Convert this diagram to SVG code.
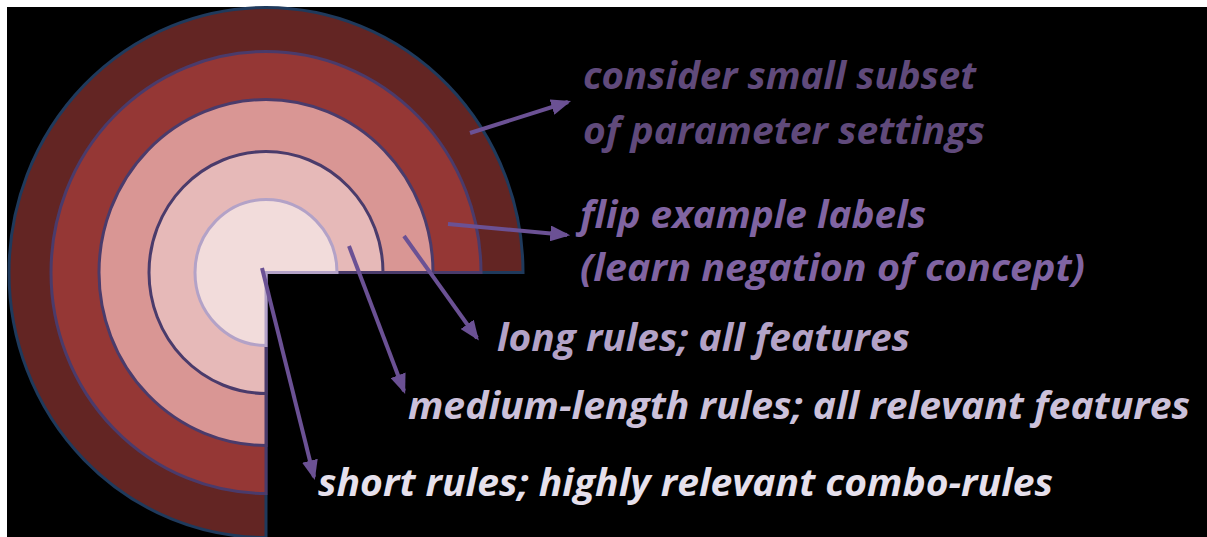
<svg xmlns="http://www.w3.org/2000/svg" width="1207" height="537" viewBox="0 0 1207 537">
<style>
.lbl{font-family:"Open Sans","Liberation Sans",sans-serif;font-weight:bold;font-style:italic;font-size:37px}
.ring{stroke-width:3}
.arr{stroke:#6b5194;stroke-width:4;fill:none;marker-end:url(#ah)}
</style>
<defs>
<marker id="ah" markerWidth="5" markerHeight="4" refX="4.2" refY="2" orient="auto" markerUnits="strokeWidth">
<path d="M0,0 L5,2 L0,4 Z" fill="#6b5194"/>
</marker>
</defs>
<rect x="0" y="0" width="1207" height="537" fill="#ffffff"/>
<rect x="7" y="7" width="1200" height="530" fill="#000000"/>
<g id="ring5"><path class="ring" d="M266,272.5 L523,272.5 A257 265 0 1 0 266,537.5 Z" fill="#632523" stroke="#1f3a5c"/></g>
<g id="ring4"><path class="ring" d="M266,272.5 L481,272.5 A215 221 0 1 0 266,493.5 Z" fill="#953735" stroke="#4a3b6b"/></g>
<g id="ring3"><path class="ring" d="M266,272.5 L433,272.5 A167 173 0 1 0 266,445.5 Z" fill="#d99694" stroke="#4a3b6b"/></g>
<g id="ring2"><path class="ring" d="M266,272.5 L383,272.5 A117 121 0 1 0 266,393.5 Z" fill="#e6b9b8" stroke="#4a3b6b"/></g>
<g id="ring1"><path class="ring" d="M266,272.5 L337,272.5 A71 73 0 1 0 266,345.5 Z" fill="#f2dcdb" stroke="#b3a2c7"/></g>
<g id="connectors">
<line class="arr" x1="470" y1="133" x2="568" y2="102"/>
<line class="arr" x1="448" y1="224" x2="567" y2="235"/>
<line class="arr" x1="404" y1="236" x2="477" y2="338"/>
<line class="arr" x1="349" y1="246" x2="404" y2="391"/>
<line class="arr" x1="262" y1="268" x2="314" y2="477"/>
</g>
<g id="label-subset">
<text class="lbl" x="583" y="89" fill="#604a7b" textLength="393" lengthAdjust="spacingAndGlyphs">consider small subset</text>
<text class="lbl" x="583" y="144" fill="#604a7b" textLength="402" lengthAdjust="spacingAndGlyphs">of parameter settings</text>
</g>
<g id="label-flip">
<text class="lbl" x="580" y="228" fill="#8064a2" textLength="346" lengthAdjust="spacingAndGlyphs">flip example labels</text>
<text class="lbl" x="580" y="281" fill="#8064a2" textLength="505" lengthAdjust="spacingAndGlyphs">(learn negation of concept)</text>
</g>
<g id="label-long">
<text class="lbl" x="497" y="351" fill="#b3a2c7" textLength="413" lengthAdjust="spacingAndGlyphs">long rules; all features</text>
</g>
<g id="label-medium">
<text class="lbl" x="408" y="419" fill="#ccc1da" textLength="782" lengthAdjust="spacingAndGlyphs">medium-length rules; all relevant features</text>
</g>
<g id="label-short">
<text class="lbl" x="318" y="496" fill="#e6e0ec" textLength="735" lengthAdjust="spacingAndGlyphs">short rules; highly relevant combo-rules</text>
</g>
</svg>
